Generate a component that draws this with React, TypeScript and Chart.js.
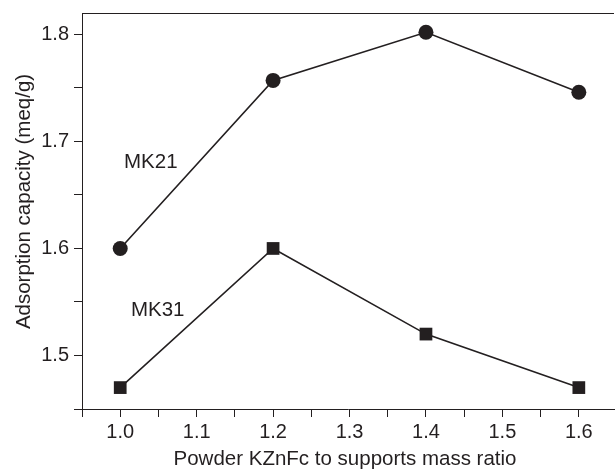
import React, { useEffect, useRef } from "react";
import { Chart, registerables } from "chart.js";

Chart.register(...registerables);

const ratios = [1.0, 1.2, 1.4, 1.6];
const mk21 = [1.6, 1.757, 1.802, 1.746];
const mk31 = [1.47, 1.6, 1.52, 1.47];
const seriesLabels = ["MK21", "MK31"];
const labelPositions = [
  { x: 1.04, y: 1.68 },
  { x: 1.049, y: 1.542 },
];
const xTickValues = [0.95, 1.0, 1.05, 1.1, 1.15, 1.2, 1.25, 1.3, 1.35, 1.4, 1.45, 1.5, 1.55, 1.6];
const yTickValues = [1.45, 1.5, 1.55, 1.6, 1.65, 1.7, 1.75, 1.8];
const xTitle = "Powder KZnFc to supports mass ratio";
const yTitle = "Adsorption capacity (meq/g)";

const INK = "#231f20";
const FONT = "'Liberation Sans', Arial, sans-serif";
const FS = 20;
const TFS = 20.5;

export default function App() {
  const ref = useRef<HTMLCanvasElement | null>(null);
  useEffect(() => {
    document.body.style.margin = "0";
    const canvas = ref.current;
    if (!canvas) return;
    const framePlugin = {
      id: "frame",
      afterDraw(chart: any) {
        const { ctx, chartArea, scales } = chart;
        ctx.save();
        ctx.strokeStyle = INK;
        ctx.lineWidth = 1;
        ctx.beginPath();
        ctx.moveTo(chartArea.left, chartArea.top + 0.5);
        ctx.lineTo(chartArea.right, chartArea.top + 0.5);
        ctx.stroke();
        ctx.fillStyle = INK;
        ctx.font = `${TFS}px ${FONT}`;
        ctx.textAlign = "center";
        ctx.textBaseline = "middle";
        seriesLabels.forEach((t, i) => {
          const p = labelPositions[i];
          ctx.fillText(t, scales.x.getPixelForValue(p.x), scales.y.getPixelForValue(p.y));
        });
        // axis titles
        ctx.textBaseline = "alphabetic";
        ctx.fillText(xTitle, 345, 465);
        ctx.translate(30, 201.5);
        ctx.rotate(-Math.PI / 2);
        ctx.fillText(yTitle, 0, 0);
        ctx.restore();
      },
    };
    const tickCb = (v: any) => {
      const n = Math.round(Number(v) * 100);
      return n % 10 === 0 ? (n / 100).toFixed(1) : "";
    };
    const gridOpts = {
      display: true,
      drawOnChartArea: false,
      drawTicks: true,
      tickLength: 8,
      tickColor: INK,
      lineWidth: 1,
    };
    const chart = new Chart(canvas, {
      type: "line",
      data: {
        datasets: [
          {
            label: seriesLabels[0],
            data: ratios.map((x, i) => ({ x, y: mk21[i] })),
            borderColor: INK,
            backgroundColor: INK,
            borderWidth: 1.6,
            pointStyle: "circle",
            pointRadius: 7.5,
            pointBorderWidth: 0,
          },
          {
            label: seriesLabels[1],
            data: ratios.map((x, i) => ({ x, y: mk31[i] })),
            borderColor: INK,
            backgroundColor: INK,
            borderWidth: 1.6,
            pointStyle: "rect",
            pointRadius: 9,
            pointBorderWidth: 0,
          },
        ],
      },
      options: {
        responsive: false,
        animation: false,
        layout: { autoPadding: false, padding: { top: 13, right: 1, left: 0, bottom: 0 } },
        plugins: { legend: { display: false }, tooltip: { enabled: false } },
        scales: {
          x: {
            type: "linear",
            min: 0.95,
            max: 1.646,
            ticks: {
              autoSkip: false,
              maxRotation: 0,
              callback: tickCb,
              color: INK,
              font: { family: FONT, size: FS },
              padding: 3,
            },
            afterBuildTicks: (s: any) => {
              s.ticks = xTickValues.map((value) => ({ value }));
            },
            afterFit: (s: any) => {
              s.height = 61;
              s.paddingLeft = 0;
              s.paddingRight = 0;
            },
            grid: gridOpts,
            border: { display: true, color: INK, width: 1 },
            title: { display: false },
          },
          y: {
            type: "linear",
            min: 1.45,
            max: 1.82,
            ticks: {
              autoSkip: false,
              callback: tickCb,
              color: INK,
              font: { family: FONT, size: FS },
              padding: 5,
            },
            afterBuildTicks: (s: any) => {
              s.ticks = yTickValues.map((value) => ({ value }));
            },
            afterFit: (s: any) => {
              s.width = 82;
              s.paddingTop = 0;
              s.paddingBottom = 0;
            },
            grid: gridOpts,
            border: { display: true, color: INK, width: 1 },
            title: { display: false },
          },
        },
      },
      plugins: [framePlugin],
    });
    return () => chart.destroy();
  }, []);
  return (
    <div style={{ width: 615, height: 470, background: "#fff" }}>
      <canvas ref={ref} width={615} height={470} style={{ display: "block" }} />
    </div>
  );
}
